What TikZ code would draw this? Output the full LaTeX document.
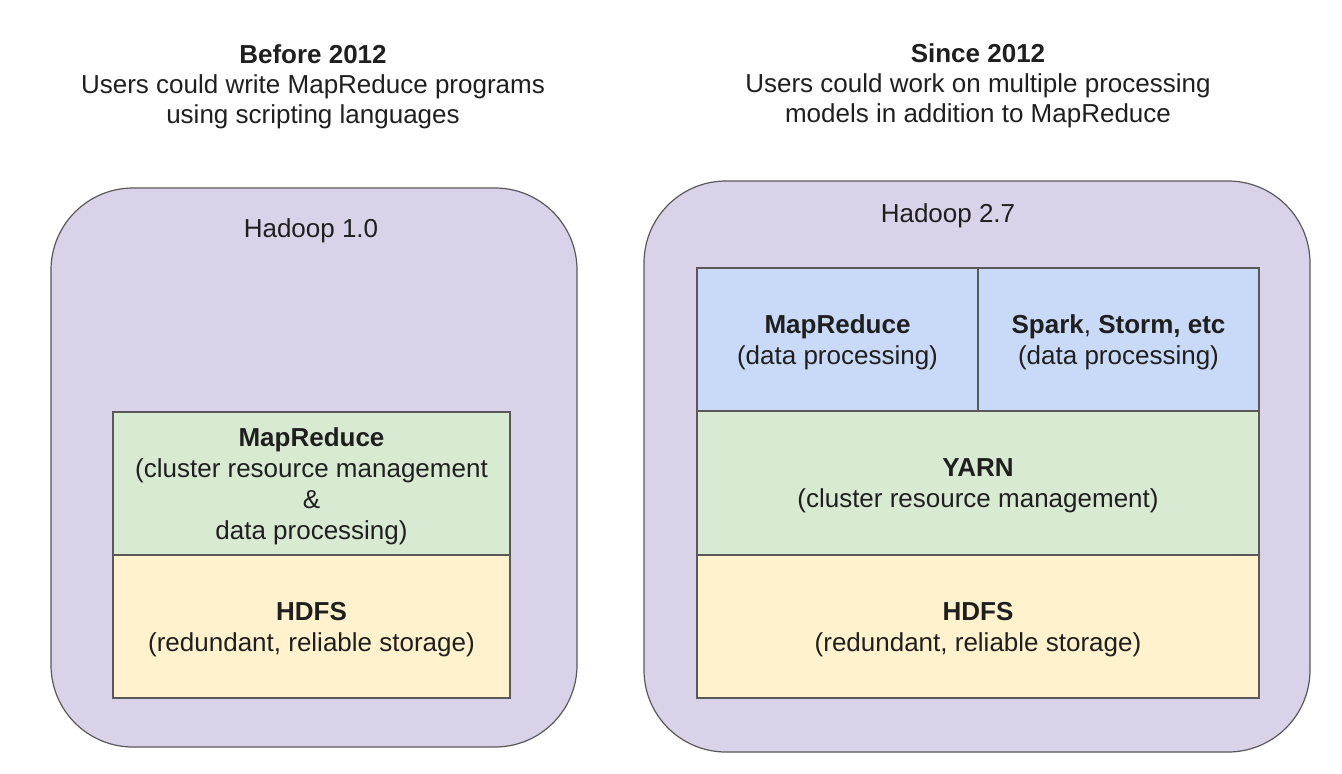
\documentclass[tikz,border=0pt]{standalone}
\usepackage{fontspec}
\setmainfont{Liberation Sans}
\definecolor{outerfill}{HTML}{D9D2E9}
\definecolor{greenfill}{HTML}{D9EAD3}
\definecolor{yellowfill}{HTML}{FFF2CC}
\definecolor{bluefill}{HTML}{C9DAF8}
\definecolor{edge}{HTML}{595959}
\definecolor{txt}{HTML}{1F1F1F}
\begin{document}
\begin{tikzpicture}[x=1pt,y=-1pt,
  every node/.style={text=txt, font=\fontsize{26}{31}\selectfont, align=center, inner sep=0pt},
  outer/.style={draw=edge, line width=1.2pt, fill=outerfill, rounded corners=82pt, anchor=center},
  layer/.style={draw=edge, line width=1.2pt, anchor=center},
  title/.style={font=\fontsize{26}{30}\selectfont}
]
\useasboundingbox[fill=white] (0,0) rectangle (1342,774);

% titles
\node[title] (t1) at (313,87) {\textbf{Before 2012}\\Users could write MapReduce programs\\using scripting languages};
\node[title] (t2) at (978,86) {\textbf{Since 2012}\\Users could work on multiple processing\\models in addition to MapReduce};

% outer containers
\node[outer, minimum width=526pt, minimum height=559pt] (h1) at (314,467.5) {};
\node[outer, minimum width=666pt, minimum height=571pt] (h2) at (977,466.5) {};
\node (h1lab) at (311,231) {Hadoop 1.0};
\node (h2lab) at (948,216) {Hadoop 2.7};

% Hadoop 1.0 layers
\node[layer, fill=greenfill, minimum width=397pt, minimum height=143pt] (mr1) at (311.5,483.5) {};
\node[layer, fill=yellowfill, minimum width=397pt, minimum height=143pt] (hdfs1) at (311.5,626.5) {};
\node (mr1t) at ([yshift=-3pt]mr1.center) {\textbf{MapReduce}\\(cluster resource management\\\&\\data processing)};
\node (hdfs1t) at ([yshift=-3pt]hdfs1.center) {\textbf{HDFS}\\(redundant, reliable storage)};

% Hadoop 2.7 layers
\node[layer, fill=bluefill, minimum width=281pt, minimum height=143pt] (mr2) at (837.5,339.5) {};
\node[layer, fill=bluefill, minimum width=281pt, minimum height=143pt] (sp) at (1118.5,339.5) {};
\node[layer, fill=greenfill, minimum width=562pt, minimum height=144pt] (yarn) at (978,483) {};
\node[layer, fill=yellowfill, minimum width=562pt, minimum height=143pt] (hdfs2) at (978,626.5) {};
\node (mr2t) at ([yshift=-3pt]mr2.center) {\textbf{MapReduce}\\(data processing)};
\node (spt) at ([yshift=-3pt]sp.center) {\textbf{Spark}, \textbf{Storm, etc}\\(data processing)};
\node (yarnt) at ([yshift=-3pt]yarn.center) {\textbf{YARN}\\(cluster resource management)};
\node (hdfs2t) at ([yshift=-3pt]hdfs2.center) {\textbf{HDFS}\\(redundant, reliable storage)};
\end{tikzpicture}
\end{document}
